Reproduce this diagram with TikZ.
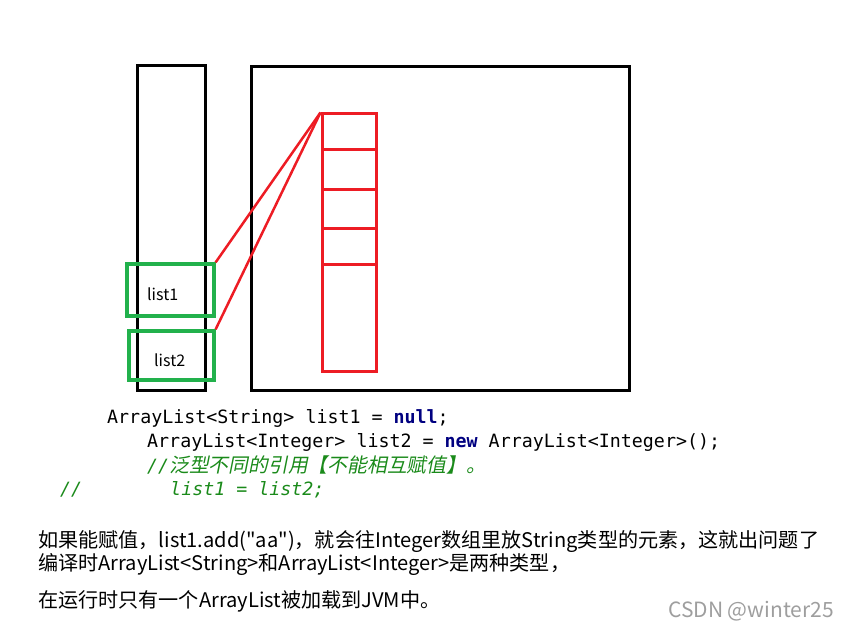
\documentclass[tikz,border=0pt]{standalone}
\usepackage{fontspec}
\setmainfont{Noto Sans CJK SC}
\newfontfamily\codefont{DejaVu Sans Mono}
\newfontfamily\cjkslant{Noto Sans CJK SC}[FakeSlant=0.2]
\usetikzlibrary{positioning}
\definecolor{boxred}{HTML}{ED1C24}
\definecolor{boxgreen}{HTML}{22B14C}
\definecolor{keyword}{HTML}{000080}
\definecolor{comment}{HTML}{1A8A1A}

\begin{document}
\begin{tikzpicture}[
    x=1pt, y=-1pt,
    frame/.style={draw=black, line width=3pt, inner sep=0pt},
    arraycell/.style={draw=boxred, line width=3pt, inner sep=0pt, minimum width=54pt},
    slot/.style={draw=boxgreen, line width=3.2pt, inner sep=0pt},
    pointer/.style={boxred, line width=2.5pt},
    varname/.style={anchor=base west, inner sep=0pt, font=\fontsize{16}{19}\selectfont},
    code/.style={anchor=base west, inner sep=0pt, font=\codefont\fontsize{18.3}{22}\selectfont},
    note/.style={anchor=base west, inner sep=0pt, font=\fontsize{20.1}{24}\selectfont}
]
\useasboundingbox (0,0) rectangle (853,628);

% Stack and heap frames
\node[frame, minimum width=68pt, minimum height=324pt] (stack) at (171,228) {};
\node[frame, minimum width=378pt, minimum height=323pt] (heap) at (440,228.5) {};

% Array cells in the heap
\node[arraycell, minimum height=257pt] (array) at (349,242.5) {};
\foreach \i/\yc in {1/150, 2/190, 3/229, 4/264} {
    \coordinate (div\i) at (322,\yc);
    \draw[boxred, line width=3pt] (div\i) -- ++(54,0);
}

% Reference slots on the stack
\node[slot, minimum width=87pt, minimum height=52pt] (slot1) at (170.5,290) {};
\node[slot, minimum width=85pt, minimum height=49pt] (slot2) at (171.5,355.5) {};
\node[varname] (name1) at (147,300) {list1};
\node[varname] (name2) at (154,366) {list2};

% References to the array
\draw[pointer] (slot1.north east) -- (array.north west);
\draw[pointer] (slot2.north east) -- (array.north west);

% Code lines
\node[code] (line1) at (107,423) {ArrayList<String> list1 = \textbf{\color{keyword}null};};
\node[code] (line2) at (147,447) {ArrayList<Integer> list2 = \textbf{\color{keyword}new} ArrayList<Integer>();};
\node[code, text=comment] (line3) at (147,472) {\itshape //{\cjkslant\fontsize{19.8}{22}\selectfont 泛型不同的引用【不能相互赋值】。}};
\node[code, text=comment] (line4) at (60,495) {\itshape //\hspace{88pt}list1 = list2;};

% Explanation
\node[note] (note1) at (38,547) {如果能赋值，list1.add(\textquotedbl aa\textquotedbl)，就会往Integer数组里放String类型的元素，这就出问题了};
\node[note] (note2) at (38,570) {编译时ArrayList<String>和ArrayList<Integer>是两种类型，};
\node[note] (note3) at (38,607) {在运行时只有一个ArrayList被加载到JVM中。};
\node[note, text=black!38, font=\fontsize{21}{24}\selectfont] (mark) at (668,617) {CSDN @winter25};

\end{tikzpicture}
\end{document}
